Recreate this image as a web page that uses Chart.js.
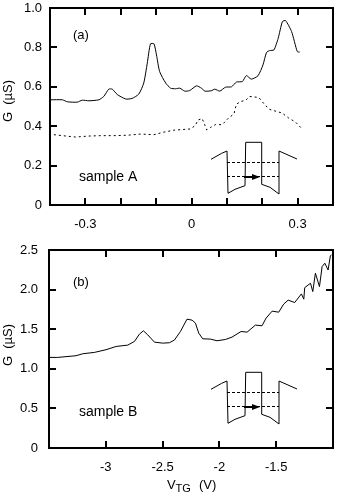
<!DOCTYPE html>
<html><head><meta charset="utf-8">
<script src="https://cdn.jsdelivr.net/npm/chart.js@4"></script>
<style>html,body{margin:0;padding:0;background:#fff;width:352px;height:498px;overflow:hidden}
canvas{position:absolute;left:0}</style></head>
<body>
<canvas id="a" width="352" height="240" style="top:0;width:352px;height:240px"></canvas>
<canvas id="b" width="352" height="258" style="top:240px;width:352px;height:258px"></canvas>
<script>
const aSolidX=[-.398,-.365,-.351,-.323,-.309,-.290,-.262,-.248,-.234,-.224,-.210,-.186,-.168,-.149,-.135,-.125,-.116,-.106,-.099,-.090,-.073,-.059,-.045,-.033,-.019,-.005,.014,.028,.038,.056,.066,.080,.096,.113,.127,.144,.155,.169,.188,.202,.212,.221,.233,.245,.257,.266,.283,.299,.306];
const aSolidG=[.534,.534,.524,.522,.532,.529,.534,.551,.588,.588,.561,.538,.541,.563,.619,.720,.818,.818,.762,.677,.619,.593,.590,.593,.578,.581,.605,.593,.578,.580,.588,.578,.598,.600,.624,.627,.657,.639,.656,.711,.774,.784,.787,.846,.931,.936,.880,.779,.776];
const aDotX=[-.389,-.365,-.328,-.290,-.257,-.219,-.182,-.144,-.106,-.078,-.049,-.003,.011,.018,.030,.038,.043,.054,.068,.087,.105,.120,.127,.140,.153,.164,.190,.209,.221,.256,.275,.294,.310];
const aDotG=[.357,.352,.345,.350,.352,.352,.354,.360,.357,.370,.380,.386,.404,.431,.439,.404,.381,.394,.408,.408,.442,.462,.512,.526,.531,.551,.546,.505,.485,.467,.441,.421,.391];
const bX=[-3.5,-3.423,-3.262,-3.203,-3.100,-2.998,-2.909,-2.807,-2.748,-2.704,-2.669,-2.631,-2.572,-2.499,-2.440,-2.396,-2.343,-2.285,-2.240,-2.211,-2.182,-2.147,-2.079,-2.021,-1.947,-1.889,-1.809,-1.756,-1.683,-1.625,-1.589,-1.536,-1.478,-1.434,-1.395,-1.337,-1.278,-1.257,-1.249,-1.198,-1.178,-1.155,-1.119,-1.096,-1.072,-1.043,-1.023,-1.013];
const bG=[1.144,1.144,1.165,1.190,1.207,1.241,1.282,1.299,1.345,1.438,1.480,1.429,1.337,1.324,1.329,1.363,1.471,1.627,1.614,1.577,1.451,1.379,1.375,1.354,1.370,1.400,1.471,1.463,1.552,1.543,1.640,1.728,1.715,1.817,1.867,1.837,1.946,1.879,2.025,2.080,1.975,2.207,2.038,2.290,2.333,2.248,2.428,2.437];
const aXTicks=[-.3,-.2,-.1,0,.1,.2,.3];
const aXLabels=['-0.3','','','0','','','0.3'];
const aYTicks=[0,.2,.4,.6,.8,1];
const aYLabels=['0','0.2','0.4','0.6','0.8','1.0'];
const bXTicks=[-3,-2.5,-2,-1.5];
const bXLabels=['-3','-2.5','-2','-1.5'];
const bYTicks=[0,.5,1,1.5,2,2.5];
const bYLabels=['0','0.5','1.0','1.5','2.0','2.5'];

const pts=(xs,ys)=>xs.map((x,i)=>({x,y:ys[i]}));
const FONT='"Liberation Sans"';
const well=[[6,24.3],[16.7,18.3],[22,16],[23,58.3],[30,54.3],[40,50.7],[40.7,7.3],[56.7,7.3],[56.7,49.3],[65,52.3],[74,59],[74,16],[92,24]];

function panelPlugin(o){return {id:'panel',afterDraw(c){
  const g=c.ctx,{left:l,right:r,top:t,bottom:b}=c.chartArea;
  g.save();g.strokeStyle='#000';g.fillStyle='#000';g.lineWidth=2;g.setLineDash([]);
  g.strokeRect(l,t,r-l,b-t);
  g.beginPath();
  c.scales.x.ticks.forEach(k=>{const p=Math.round(c.scales.x.getPixelForValue(k.value));
    g.moveTo(p,b);g.lineTo(p,b-7);g.moveTo(p,t);g.lineTo(p,t+7);});
  c.scales.y.ticks.forEach(k=>{if(k.value<=0||k.value>=c.scales.y.max)return;
    const p=Math.round(c.scales.y.getPixelForValue(k.value));
    g.moveTo(l,p);g.lineTo(l+7,p);g.moveTo(r,p);g.lineTo(r-7,p);});
  g.stroke();
  // text
  g.textBaseline='middle';g.textAlign='left';g.font='13px '+FONT;
  g.fillText(o.tag,73,o.tagY);
  g.font='14px '+FONT;g.fillText(o.sample,79,o.sampleY);
  g.save();g.translate(8,o.gY);g.rotate(-Math.PI/2);g.textAlign='center';g.font='13px '+FONT;g.fillText('G  (µS)',0,0);g.restore();
  if(o.xlabel){g.font='13px '+FONT;g.fillText('V',167,o.xlabelY);
    g.font='11px '+FONT;g.fillText('TG',175.5,o.xlabelY+4);
    g.font='13px '+FONT;g.fillText('(V)',199,o.xlabelY);}
  // inset
  const ox=205,oy=o.insetTop;
  g.lineWidth=1;g.beginPath();
  well.forEach((q,i)=>{const X=ox+q[0],Y=oy+q[1];i?g.lineTo(X,Y):g.moveTo(X,Y);});
  g.stroke();
  g.setLineDash([3,2]);g.beginPath();
  g.moveTo(ox+22,oy+27.5);g.lineTo(ox+74,oy+27.5);
  g.moveTo(ox+22,oy+41.5);g.lineTo(ox+74,oy+41.5);g.stroke();
  g.setLineDash([]);g.lineWidth=2;g.beginPath();g.moveTo(ox+39,oy+42);g.lineTo(ox+50,oy+42);g.stroke();
  g.beginPath();g.moveTo(ox+47,oy+39);g.lineTo(ox+55,oy+42);g.lineTo(ox+47,oy+45);g.closePath();g.fill();
  g.restore();
}};}

function makeChart(id,datasets,cfg){
  return new Chart(document.getElementById(id),{type:'scatter',data:{datasets},
    plugins:[panelPlugin(cfg.panel)],
    options:{responsive:false,animation:false,events:[],
      layout:{autoPadding:false,padding:{left:0,right:19,top:cfg.top,bottom:0}},
      plugins:{legend:{display:false},tooltip:{enabled:false}},
      scales:{
        x:{type:'linear',min:cfg.xMin,max:cfg.xMax,grid:{display:false,drawTicks:false},border:{display:false},
          afterBuildTicks:s=>{s.ticks=cfg.xTicks.map(v=>({value:v}));},
          afterFit:s=>{s.height=cfg.xH;s.paddingLeft=0;s.paddingRight=0;},
          ticks:{autoSkip:false,maxRotation:0,padding:cfg.xPad,color:'#000',font:{family:FONT,size:13},
            callback:(v,i)=>cfg.xLabels[i]}},
        y:{type:'linear',min:cfg.yMin,max:cfg.yMax,grid:{display:false,drawTicks:false},border:{display:false},
          afterBuildTicks:s=>{s.ticks=cfg.yTicks.map(v=>({value:v}));},
          afterFit:s=>{s.width=cfg.yW;s.paddingTop=0;s.paddingBottom=0;},
          ticks:{autoSkip:false,padding:cfg.yPad,color:'#000',font:{family:FONT,size:13},
            callback:(v,i)=>cfg.yLabels[i]}}
      }}});
}
makeChart('a',[{data:pts(aSolidX,aSolidG),showLine:true,pointRadius:0,borderColor:'#000',borderWidth:1,tension:.2},
  {data:pts(aDotX,aDotG),showLine:true,pointRadius:0,borderColor:'#000',borderWidth:1,borderDash:[2,3],tension:0}],
  {top:8,xH:35,yW:50,xPad:12,yPad:8,xMin:-.4,xMax:.4,yMin:0,yMax:1,xTicks:aXTicks,xLabels:aXLabels,yTicks:aYTicks,yLabels:aYLabels,
   panel:{tag:'(a)',tagY:35,sample:'sample A',sampleY:177,gY:101,insetTop:135}});
makeChart('b',[{data:pts(bX,bG),showLine:true,pointRadius:0,borderColor:'#000',borderWidth:1,tension:0}],
  {top:10,xH:50,yW:49,xPad:12,yPad:11,xMin:-3.5,xMax:-1,yMin:0,yMax:2.5,xTicks:bXTicks,xLabels:bXLabels,yTicks:bYTicks,yLabels:bYLabels,
   panel:{tag:'(b)',tagY:42,sample:'sample B',sampleY:172,gY:105,insetTop:125,xlabel:true,xlabelY:245}});
</script>
</body></html>
